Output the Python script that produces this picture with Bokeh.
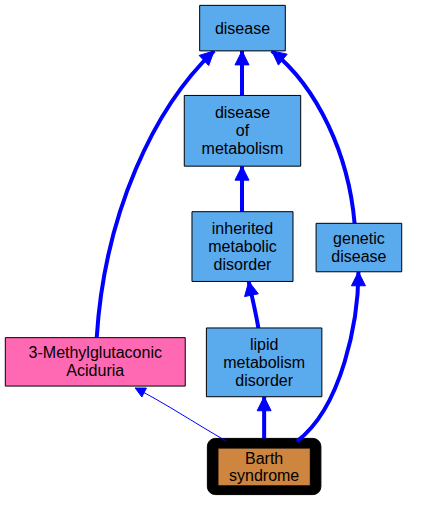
from bokeh.plotting import figure
from bokeh.models import Arrow, NormalHead
from bokeh.core.properties import value
from bokeh.embed import file_html
from bokeh.resources import INLINE

# nodes: label, left, right, top, bottom, fill (image pixel coords)
node_labels = ["disease", "disease\nof\nmetabolism", "inherited\nmetabolic\ndisorder",
               "genetic\ndisease", "lipid\nmetabolism\ndisorder",
               "3-Methylglutaconic\nAciduria", "Barth\nsyndrome"]
node_left = [207, 191, 199, 328, 214, 5, 226]
node_right = [296, 312, 304, 417, 334, 192, 322]
node_top = [5, 98, 218, 230, 338, 348, 462]
node_bottom = [52, 171, 290, 280, 409, 398, 501]
node_fill = ["#5aaaee", "#5aaaee", "#5aaaee", "#5aaaee", "#5aaaee", "#ff69b4", "#cd853f"]

# edges as cubic curves: start, control1, control2, end, width
edge_x0 = [251, 251, 268, 274, 308, 368, 100, 235]
edge_y0 = [98, 218, 338, 452, 455, 230, 348, 455]
edge_cx0 = [251, 251, 265, 274, 355, 362, 108, 200]
edge_cy0 = [80, 200, 320, 435, 420, 160, 220, 435]
edge_cx1 = [251, 251, 261, 274, 372, 330, 160, 170]
edge_cy1 = [70, 190, 305, 425, 330, 90, 110, 415]
edge_x1 = [251, 251, 258, 274, 372, 282, 222, 140]
edge_y1 = [52, 171, 290, 409, 280, 52, 52, 400]
edge_w = [4, 4, 4, 4, 4, 4, 4, 1]

p = figure(width=407, height=497, x_range=(0, 423), y_range=(513, 0),
           output_backend="svg", toolbar_location=None)
p.axis.visible = False
p.grid.visible = False
p.outline_line_color = None
p.min_border = 0

# black frame around the focus node
p.quad(left=[215], right=[333], top=[452], bottom=[510], fill_color="black",
       line_color="black", border_radius=8)

for i in range(len(edge_x0)):
    p.bezier(x0=[edge_x0[i]], y0=[edge_y0[i]], x1=[edge_x1[i]], y1=[edge_y1[i]],
             cx0=[edge_cx0[i]], cy0=[edge_cy0[i]], cx1=[edge_cx1[i]], cy1=[edge_cy1[i]],
             line_color="blue", line_width=edge_w[i])
    # short segment along the end tangent, only for the arrowhead
    dx = edge_x1[i] - edge_cx1[i]
    dy = edge_y1[i] - edge_cy1[i]
    d = (dx * dx + dy * dy) ** 0.5
    big = edge_w[i] > 2
    p.add_layout(Arrow(end=NormalHead(size=14 if big else 10, fill_color="blue",
                                      line_color="blue"),
                       x_start=edge_x1[i] - dx / d * 6, y_start=edge_y1[i] - dy / d * 6,
                       x_end=edge_x1[i], y_end=edge_y1[i],
                       line_color="blue", line_width=edge_w[i]))

p.quad(left=node_left, right=node_right, top=node_top, bottom=node_bottom,
       fill_color=node_fill, line_color="black", line_width=1)

cx = [(a + b) / 2 for a, b in zip(node_left, node_right)]
cy = [(a + b) / 2 for a, b in zip(node_top, node_bottom)]
p.text(x=cx, y=cy, text=node_labels, text_align="center", text_baseline="middle",
       text_font=value("Liberation Sans"), text_font_size="16px", text_color="black",
       text_line_height=1.05)

open("out.html", "w").write(file_html(p, INLINE))
